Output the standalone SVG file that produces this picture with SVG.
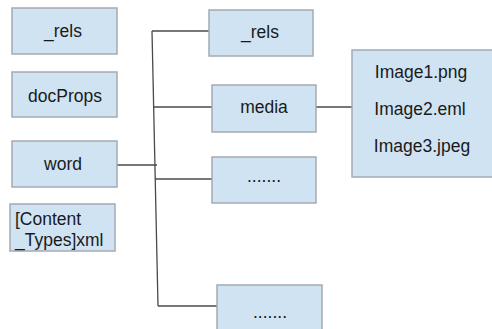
<svg xmlns="http://www.w3.org/2000/svg" width="492" height="329" viewBox="0 0 492 329">
<style>
.box{fill:#cfe3f3;stroke:#a3abb3;stroke-width:1.5}
.t{font-family:"Liberation Sans",Arial,sans-serif;font-size:17.5px;fill:#1a1a1a;text-anchor:middle}
.l{text-anchor:start}
.c{fill:none;stroke:#4a4a4a;stroke-width:1.3}
</style>
<rect width="492" height="329" fill="#ffffff"/>
<g id="connectors">
<path class="c" d="M152 31 L158 306"/>
<path class="c" d="M152 31 H209"/>
<path class="c" d="M154 107 H212"/>
<path class="c" d="M117 165 H157"/>
<path class="c" d="M155 179 H212"/>
<path class="c" d="M158 306 H217"/>
<path class="c" d="M316 107 H352"/>
</g>
<g id="rels_root"><rect class="box" x="12" y="8" width="105" height="46"/><text class="t" x="63" y="37">_rels</text></g>
<g id="docProps"><rect class="box" x="12" y="72" width="105" height="45"/><text class="t" x="65" y="102">docProps</text></g>
<g id="word"><rect class="box" x="12" y="141" width="105" height="46"/><text class="t" x="63" y="170">word</text></g>
<g id="content_types"><rect class="box" x="10" y="204" width="105" height="47"/><text class="t l" x="15" y="225">[Content</text><text class="t l" x="15" y="246">_Types]xml</text></g>
<g id="word_rels"><rect class="box" x="209" y="10" width="104" height="46"/><text class="t" x="260" y="38">_rels</text></g>
<g id="media"><rect class="box" x="212" y="85" width="104" height="47"/><text class="t" x="264" y="113">media</text></g>
<g id="more1"><rect class="box" x="212" y="157" width="104" height="46"/><text class="t" x="264" y="182">.......</text></g>
<g id="more2"><rect class="box" x="217" y="285" width="105" height="50"/><text class="t" x="270" y="318">.......</text></g>
<g id="images"><rect class="box" x="352" y="50" width="145" height="127"/><text class="t" x="421" y="78">Image1.png</text><text class="t" x="420" y="115">Image2.eml</text><text class="t" x="422" y="152">Image3.jpeg</text></g>
</svg>
